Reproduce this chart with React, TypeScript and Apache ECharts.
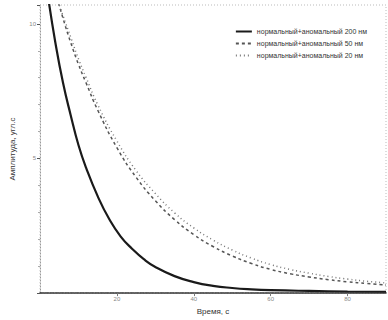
import React, { useEffect, useRef } from "react";
import * as echarts from "echarts";

const seriesNames = [
  "нормальный+аномальный 200 нм",
  "нормальный+аномальный 50 нм",
  "нормальный+аномальный 20 нм",
];

const x200 = [2, 4, 6, 8, 10, 12, 15, 18, 21, 24, 27, 30, 35, 40, 45, 50, 55, 60, 70, 80, 90];
const y200 = [11.1, 9.3, 7.8, 6.6, 5.5, 4.65, 3.6, 2.75, 2.1, 1.64, 1.26, 0.97, 0.63, 0.41, 0.27, 0.19, 0.14, 0.11, 0.08, 0.06, 0.05];

const x50 = [4, 6, 8, 10, 12, 15, 20, 25, 30, 35, 40, 45, 50, 55, 60, 65, 70, 75, 80, 85, 90];
const y50 = [11.2, 10.2, 9.3, 8.5, 7.8, 6.8, 5.4, 4.3, 3.43, 2.73, 2.17, 1.73, 1.38, 1.1, 0.88, 0.72, 0.6, 0.5, 0.42, 0.36, 0.3];

const x20 = [4, 6, 8, 10, 12, 15, 20, 25, 30, 35, 40, 45, 50, 55, 60, 65, 70, 75, 80, 85, 90];
const y20 = [11.1, 10.3, 9.5, 8.7, 8.0, 7.0, 5.65, 4.55, 3.7, 2.98, 2.42, 1.97, 1.6, 1.3, 1.06, 0.88, 0.74, 0.62, 0.52, 0.44, 0.38];

const zip = (xs: number[], ys: number[]) => xs.map((x, i) => [x, ys[i]]);

export default function App() {
  const ref = useRef<HTMLDivElement>(null);
  useEffect(() => {
    if (!ref.current) return;
    const chart = echarts.init(ref.current, null, { renderer: "svg" });
    chart.setOption({
      animation: false,
      backgroundColor: "#ffffff",
      textStyle: { fontFamily: "Liberation Sans, Arial, sans-serif" },
      grid: {
        left: 40,
        right: 2,
        top: 5,
        bottom: 22,
        show: true,
        borderColor: "#bbbbbb",
        borderWidth: 1,
        borderType: [1, 2],
      },
      legend: {
        orient: "vertical",
        right: 16,
        top: 23,
        itemWidth: 16,
        itemHeight: 6,
        itemGap: 5,
        itemStyle: { opacity: 0 },
        textStyle: { fontSize: 7, color: "#333" },
        data: seriesNames,
      },
      xAxis: {
        type: "value",
        min: 0,
        max: 90,
        interval: 20,
        name: "Время, с",
        nameLocation: "middle",
        nameGap: 13,
        nameTextStyle: { fontSize: 8, color: "#333" },
        axisLine: { lineStyle: { color: "#333", width: 1.5, type: [4, 1] } },
        axisTick: { inside: false, length: 3, lineStyle: { color: "#777" } },
        axisLabel: { fontSize: 6, color: "#888", margin: 3, showMinLabel: false, showMaxLabel: false },
        splitLine: { show: false },
      },
      yAxis: {
        type: "value",
        min: 0,
        max: 10.7,
        interval: 5,
        name: "Амплитуда, угл.с",
        nameLocation: "middle",
        nameGap: 24,
        nameTextStyle: { fontSize: 8, color: "#333" },
        axisLine: { show: true, lineStyle: { color: "#999", width: 1, type: [1, 2] } },
        axisTick: { length: 3, lineStyle: { color: "#555" } },
        minorTick: { show: true, splitNumber: 5, length: 2, lineStyle: { color: "#aaa" } },
        axisLabel: { fontSize: 6, color: "#888", margin: 4, showMinLabel: false, showMaxLabel: false },
        splitLine: { show: false },
      },
      series: [
        {
          name: seriesNames[0],
          type: "line",
          data: zip(x200, y200),
          smooth: true,
          symbol: "none",
          lineStyle: { color: "#1a1a1a", width: 2.2 },
          itemStyle: { color: "#1a1a1a" },
          clip: true,
        },
        {
          name: seriesNames[1],
          type: "line",
          data: zip(x50, y50),
          smooth: true,
          symbol: "none",
          lineStyle: { color: "#555", width: 1.5, type: [3, 3] },
          itemStyle: { color: "#555" },
          clip: true,
        },
        {
          name: seriesNames[2],
          type: "line",
          data: zip(x20, y20),
          smooth: true,
          symbol: "none",
          lineStyle: { color: "#777", width: 1.5, type: [1, 3] },
          itemStyle: { color: "#777" },
          clip: true,
        },
      ],
    });
    return () => chart.dispose();
  }, []);
  return <div ref={ref} style={{ width: 388, height: 320, position: "absolute", left: 0, top: 0 }} />;
}
